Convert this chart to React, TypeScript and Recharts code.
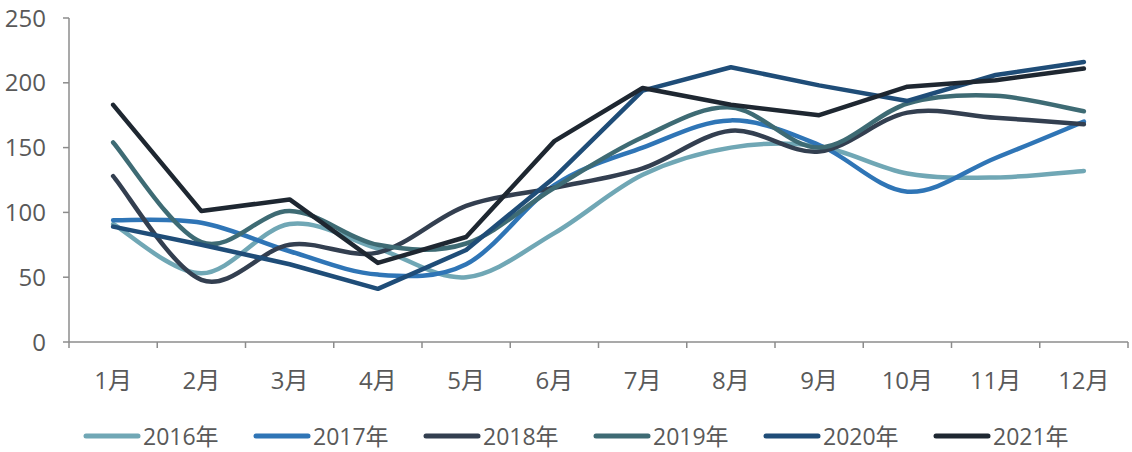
import React from 'react'
import { LineChart, Line, XAxis, YAxis, Legend } from 'recharts'

const months = ['1月', '2月', '3月', '4月', '5月', '6月', '7月', '8月', '9月', '10月', '11月', '12月']
const y2016 = [91, 53, 91, 72, 50, 84, 129, 150, 151, 130, 127, 132]
const y2017 = [94, 92, 70, 52, 60, 121, 150, 171, 152, 116, 142, 170]
const y2018 = [128, 48, 75, 69, 105, 119, 134, 163, 147, 177, 173, 168]
const y2019 = [154, 77, 101, 75, 76, 119, 158, 181, 150, 184, 190, 178]
const y2020 = [89, 75, 60, 41, 71, 127, 194, 212, 198, 186, 206, 216]
const y2021 = [183, 101, 110, 61, 81, 155, 196, 183, 175, 197, 202, 211]
const yTicks = [0, 50, 100, 150, 200, 250]

const W = 1132
const H = 452
const LEFT = 69
const RIGHT = 4
const TEXT = '#595959'
const AXIS = '#8c8c8c'
const FONT = '"Open Sans", "Noto Sans CJK SC", sans-serif'

const data = months.map((m, i) => ({
  month: m,
  '2016年': y2016[i],
  '2017年': y2017[i],
  '2018年': y2018[i],
  '2019年': y2019[i],
  '2020年': y2020[i],
  '2021年': y2021[i],
}))

// smoothed line like office charts (catmull-rom style bezier)
const smooth: any = (ctx: any) => {
  let pts: number[][] = []
  return {
    areaStart() {},
    areaEnd() {},
    lineStart() { pts = [] },
    point(x: number, y: number) { pts.push([+x, +y]) },
    lineEnd() {
      if (!pts.length) return
      ctx.moveTo(pts[0][0], pts[0][1])
      for (let i = 0; i < pts.length - 1; i++) {
        const p0 = pts[i - 1] || pts[i]
        const p1 = pts[i]
        const p2 = pts[i + 1]
        const p3 = pts[i + 2] || pts[i + 1]
        ctx.bezierCurveTo(
          p1[0] + (p2[0] - p0[0]) / 6, p1[1] + (p2[1] - p0[1]) / 6,
          p2[0] - (p3[0] - p1[0]) / 6, p2[1] - (p3[1] - p1[1]) / 6,
          p2[0], p2[1]
        )
      }
    },
  }
}

const series = [
  { key: '2016年', color: '#70a7b5', curve: smooth },
  { key: '2017年', color: '#2f75b6', curve: smooth },
  { key: '2018年', color: '#333f50', curve: smooth },
  { key: '2019年', color: '#3e6b74', curve: smooth },
  { key: '2020年', color: '#1f4d78', curve: 'linear' },
  { key: '2021年', color: '#1e2731', curve: 'linear' },
]

const HALF_BAND = (W - LEFT - RIGHT) / months.length / 2
const TICK_MARGIN = 24
const TICK_SIZE = 6

function MonthTick(props: any) {
  const { x, y, payload, index } = props
  const axisY = y - TICK_MARGIN - TICK_SIZE
  return (
    <g>
      <line x1={x - HALF_BAND} x2={x - HALF_BAND} y1={axisY} y2={axisY + TICK_SIZE} stroke={AXIS} strokeWidth={1.5} />
      {index === months.length - 1 && (
        <line x1={x + HALF_BAND} x2={x + HALF_BAND} y1={axisY} y2={axisY + TICK_SIZE} stroke={AXIS} strokeWidth={1.5} />
      )}
      <text x={x} y={y} dy="0.71em" textAnchor="middle" fill={TEXT} fontSize={24} fontFamily={FONT}>
        {payload.value}
      </text>
    </g>
  )
}

function LegendContent(props: any) {
  const items = props.payload || []
  return (
    <div style={{ display: 'flex', paddingLeft: 83, height: 24, alignItems: 'center' }}>
      {items.map((it: any) => (
        <div key={it.value} style={{ display: 'flex', alignItems: 'center', width: 170, height: 24 }}>
          <svg width={58} height={10}>
            <line x1={3} x2={55} y1={5} y2={5} stroke={it.color} strokeWidth={5} strokeLinecap="round" />
          </svg>
          <span style={{ color: TEXT, fontSize: 23, fontFamily: FONT, lineHeight: '24px', marginLeft: 2, whiteSpace: 'nowrap' }}>
            {it.value}
          </span>
        </div>
      ))}
    </div>
  )
}

export default function App() {
  return (
    <div style={{ position: 'absolute', left: 0, top: 0, background: '#fff' }}>
      <LineChart width={W} height={H} data={data} margin={{ top: 18, right: RIGHT, left: 0, bottom: 26 }}>
        <XAxis
          dataKey="month"
          scale="band"
          height={60}
          stroke={AXIS}
          strokeWidth={1.5}
          tickLine={false}
          tickSize={TICK_SIZE}
          tickMargin={TICK_MARGIN}
          interval={0}
          tick={<MonthTick />}
        />
        <YAxis
          width={LEFT}
          domain={[0, 250]}
          ticks={yTicks}
          stroke={AXIS}
          strokeWidth={1.5}
          tickSize={TICK_SIZE}
          tickMargin={17}
          tick={{ fill: TEXT, fontSize: 24, fontFamily: FONT }}
        />
        <Legend
          verticalAlign="bottom"
          wrapperStyle={{ top: 424, left: 0, bottom: 'auto', width: W }}
          content={<LegendContent />}
        />
        {series.map((s) => (
          <Line
            key={s.key}
            dataKey={s.key}
            type={s.curve as any}
            stroke={s.color}
            strokeWidth={4.5}
            strokeLinecap="round"
            strokeLinejoin="round"
            dot={false}
            activeDot={false}
            isAnimationActive={false}
          />
        ))}
      </LineChart>
    </div>
  )
}
